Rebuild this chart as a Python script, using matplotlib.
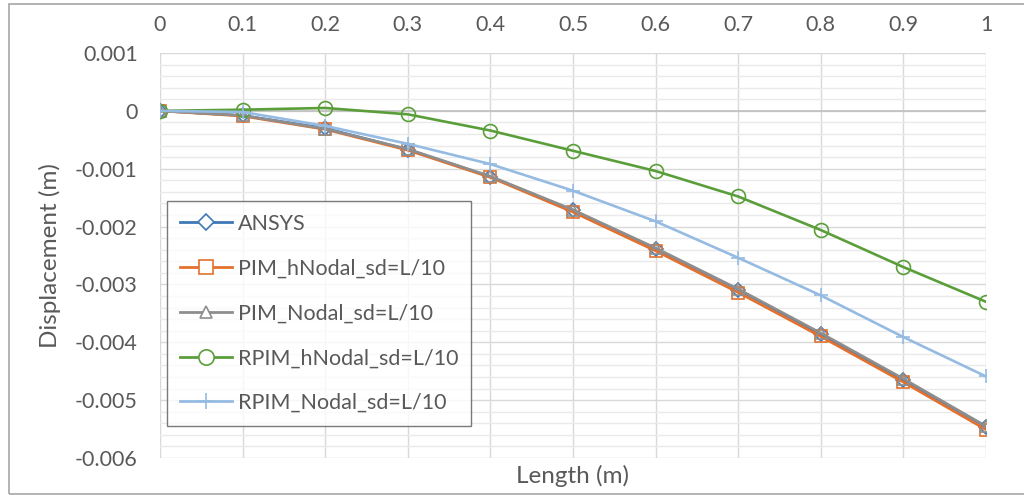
import matplotlib
matplotlib.use("Agg")
import matplotlib.pyplot as plt
from matplotlib.ticker import MultipleLocator
from matplotlib.lines import Line2D

plt.rcParams['font.family'] = ['Lato', 'DejaVu Sans']

length = [0, 0.1, 0.2, 0.3, 0.4, 0.5, 0.6, 0.7, 0.8, 0.9, 1.0]
ansys = [0, -0.00008, -0.00030, -0.00067, -0.00114, -0.00172, -0.00238, -0.00309, -0.00386, -0.00465, -0.00546]
pim_hnodal = [0, -0.00009, -0.00032, -0.00068, -0.00115, -0.00175, -0.00242, -0.00314, -0.00390, -0.00469, -0.00551]
pim_nodal = [0, -0.00008, -0.00031, -0.00066, -0.00113, -0.00171, -0.00237, -0.00308, -0.00384, -0.00463, -0.00545]
rpim_hnodal = [0, 0.00002, 0.00005, -0.00006, -0.00034, -0.00069, -0.00104, -0.00148, -0.00206, -0.00270, -0.00330]
rpim_nodal = [0, -0.00002, -0.00026, -0.00057, -0.00092, -0.00138, -0.00191, -0.00254, -0.00319, -0.00391, -0.00459]

labels = ['ANSYS', 'PIM_hNodal_sd=L/10', 'PIM_Nodal_sd=L/10', 'RPIM_hNodal_sd=L/10', 'RPIM_Nodal_sd=L/10']
xticks = [0, 0.1, 0.2, 0.3, 0.4, 0.5, 0.6, 0.7, 0.8, 0.9, 1]
xticklabels = ['0', '0.1', '0.2', '0.3', '0.4', '0.5', '0.6', '0.7', '0.8', '0.9', '1']
yticks = [0.001, 0, -0.001, -0.002, -0.003, -0.004, -0.005, -0.006]
yticklabels = ['0.001', '0', '-0.001', '-0.002', '-0.003', '-0.004', '-0.005', '-0.006']

txt = '#595959'
fig = plt.figure(figsize=(10.24, 4.95), dpi=100)
ax = fig.add_axes([160/1024, 1-458/495, (986-160)/1024, (458-53)/495])

ax.set_xlim(0, 1)
ax.set_ylim(-0.006, 0.001)
ax.yaxis.set_minor_locator(MultipleLocator(0.0002))
ax.grid(which='minor', axis='y', color='#EAEAEA', lw=1)
ax.grid(which='major', axis='both', color='#D9D9D9', lw=1)
ax.set_axisbelow(True)
for s in ax.spines.values():
    s.set_visible(False)
ax.axhline(0, color='#BFBFBF', lw=1.2, zorder=1)

series = [
    (ansys, '#3F78B8', 'D', 7),
    (pim_hnodal, '#E3712D', 's', 9),
    (pim_nodal, '#8E8E8E', '^', 8),
    (rpim_hnodal, '#5A9E3A', 'o', 10),
    (rpim_nodal, '#95BBE3', '+', 10),
]
handles = []
for (vals, col, mk, ms), lab in zip(series, labels):
    ax.plot(length, vals, color=col, lw=1.9, marker=mk, ms=ms,
            mfc='none', mec=col, mew=1.2, zorder=3)
    handles.append(Line2D([], [], color=col, lw=2.0, marker=mk, ms=ms + 1,
                          mfc='white', mec=col, mew=1.2))

ax.set_xticks(xticks)
ax.set_xticklabels(xticklabels)
ax.set_yticks(yticks)
ax.set_yticklabels(yticklabels)
ax.xaxis.tick_top()
ax.tick_params(axis='both', which='both', length=0, colors=txt, labelsize=15.5)
ax.tick_params(axis='x', pad=13)
ax.tick_params(axis='y', pad=16)

ax.set_xlabel('Length (m)', fontsize=17.5, color=txt, labelpad=5)
ax.xaxis.set_label_position('bottom')
ax.set_ylabel('Displacement (m)', fontsize=17.5, color=txt, labelpad=10)

leg = ax.legend(handles, labels, loc='upper left', bbox_to_anchor=(7/826, 1-(201-53)/405),
                borderaxespad=0, fontsize=15.5, frameon=True, fancybox=False,
                edgecolor='#595959', handlelength=2.4, handletextpad=0.28,
                labelspacing=1.15, borderpad=0.6, labelcolor=txt)
leg.get_frame().set_linewidth(1.0)

fig.add_artist(plt.Rectangle((9/1024, 1/495), 1.05, 1-5/495, transform=fig.transFigure,
                             fill=False, edgecolor='#A6A6A6', lw=1.2))

fig.savefig('out.png', dpi=100)
